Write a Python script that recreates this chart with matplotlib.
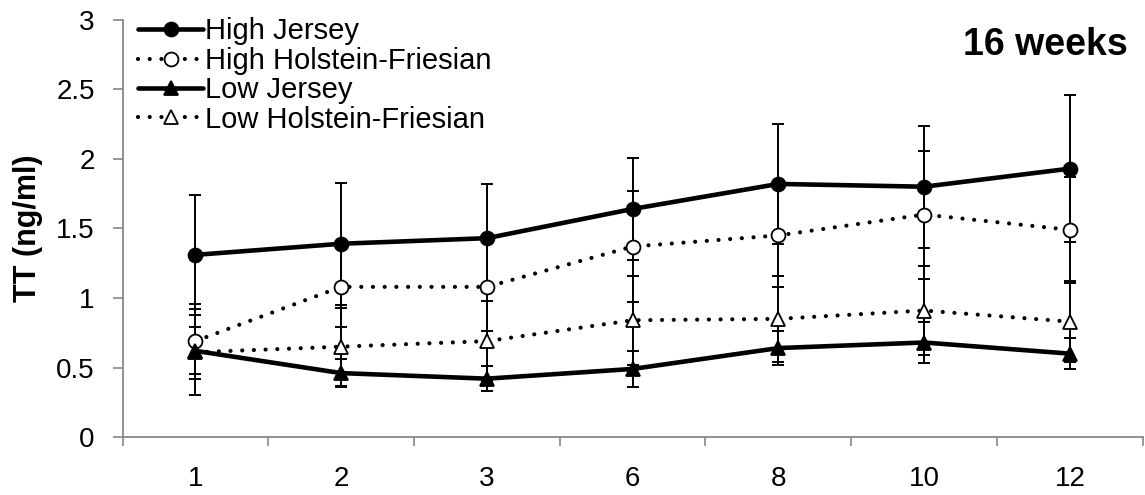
"""Concentrations de TT par semaine, groupes High/Low x Jersey/Holstein-Friesian."""

import matplotlib

matplotlib.use("Agg")
import matplotlib.pyplot as plt
import numpy as np

plt.rcParams["font.family"] = ["Liberation Sans", "DejaVu Sans"]

weeks = ["1", "2", "3", "6", "8", "10", "12"]

high_jersey = [1.31, 1.39, 1.43, 1.64, 1.82, 1.80, 1.93]
high_jersey_err = [0.43, 0.44, 0.39, 0.37, 0.43, 0.44, 0.53]

high_hf = [0.69, 1.08, 1.08, 1.37, 1.45, 1.60, 1.49]
high_hf_err = [0.27, 0.29, 0.32, 0.40, 0.37, 0.46, 0.38]

low_jersey = [0.62, 0.46, 0.42, 0.49, 0.64, 0.68, 0.60]
low_jersey_err = [0.17, 0.10, 0.09, 0.13, 0.12, 0.15, 0.11]

low_hf = [0.61, 0.65, 0.69, 0.84, 0.85, 0.91, 0.83]
low_hf_err = [0.31, 0.28, 0.29, 0.32, 0.31, 0.32, 0.29]

series = [
    ("High Jersey", high_jersey, high_jersey_err, "-", "o", "black"),
    ("High Holstein-Friesian", high_hf, high_hf_err, ":", "o", "white"),
    ("Low Jersey", low_jersey, low_jersey_err, "-", "^", "black"),
    ("Low Holstein-Friesian", low_hf, low_hf_err, ":", "^", "white"),
]

fig = plt.figure(figsize=(11.45, 4.95), dpi=100)
ax = fig.add_axes([0.107, 0.117, 0.891, 0.843])

x = np.arange(len(weeks))
handles = []
for label, vals, err, ls, marker, face in series:
    ax.errorbar(x, vals, yerr=err, fmt="none", ecolor="black",
                elinewidth=1.4, capsize=4.6, capthick=1.4, zorder=2)
    ms = 10 if marker == "o" else 9.5
    if ls == "-":
        (h,) = ax.plot(x, vals, color="black", lw=3.3, marker=marker,
                       ms=ms, mfc=face, mec="black", mew=1.3,
                       solid_capstyle="round", label=label, zorder=4)
    else:
        (h,) = ax.plot(x, vals, color="black", lw=3.0, marker=marker,
                       ms=ms, mfc=face, mec="black", mew=1.3,
                       dashes=[0.01, 2.8], dash_capstyle="round",
                       label=label, zorder=3)
    handles.append(h)

ax.set_xlim(-0.5, len(weeks) - 0.5)
ax.set_ylim(0, 3)
ax.set_yticks(np.arange(0, 3.01, 0.5))
ax.set_yticklabels(["0", "0.5", "1", "1.5", "2", "2.5", "3"])

# labels au centre des categories, graduations entre les categories
ax.set_xticks(x)
ax.set_xticklabels(weeks)
ax.set_xticks(np.arange(-0.5, len(weeks)), minor=True)
ax.tick_params(axis="x", which="major", length=0, pad=21, labelsize=20)
ax.tick_params(axis="x", which="minor", length=6.5, width=1.2, color="#888888")
ax.tick_params(axis="y", length=7, width=1.2, color="#888888", labelsize=20, pad=13)

for side in ("top", "right"):
    ax.spines[side].set_visible(False)
for side in ("left", "bottom"):
    ax.spines[side].set_color("#888888")
    ax.spines[side].set_linewidth(1.3)

ax.set_ylabel("TT (ng/ml)", fontsize=22, fontweight="bold")
ax.yaxis.set_label_coords(-0.078, 0.5)
ax.text(0.985, 0.94, "16 weeks", transform=ax.transAxes, ha="right",
        va="center", fontsize=27, fontweight="bold")

ax.legend(handles=handles, loc="upper left", bbox_to_anchor=(-0.005, 1.055),
          frameon=False, fontsize=21, handlelength=2.25, handletextpad=0.05,
          labelspacing=0.05, borderaxespad=0.3)

fig.savefig("out.png", dpi=100)
plt.close(fig)
